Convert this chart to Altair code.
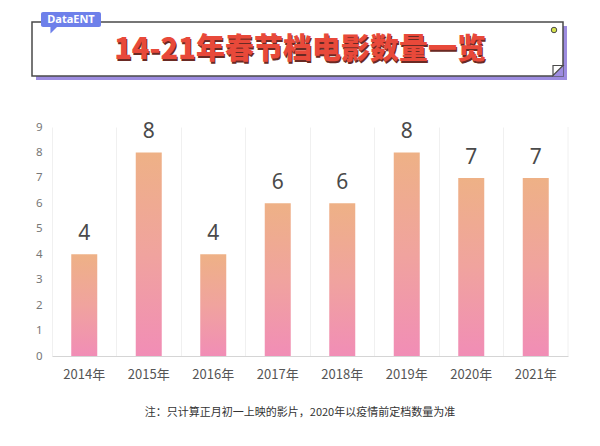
import altair as alt
import pandas as pd

years = ["2014年", "2015年", "2016年", "2017年", "2018年", "2019年", "2020年", "2021年"]
counts = [4, 8, 4, 6, 6, 8, 7, 7]
y_ticks = [0, 1, 2, 3, 4, 5, 6, 7, 8, 9]
title_text = "14-21年春节档电影数量一览"
tag_text = "DataENT"
note_text = "注：只计算正月初一上映的影片，2020年以疫情前定档数量为准"

FONT = "Noto Sans CJK SC"
df = pd.DataFrame({"year": years, "count": counts})
one = pd.DataFrame({"k": [0]})

grad = alt.LinearGradient(
    gradient="linear", x1=0, y1=0, x2=0, y2=1,
    stops=[alt.GradientStop(offset=0, color="#EEB186"),
           alt.GradientStop(offset=0.5, color="#F0A39E"),
           alt.GradientStop(offset=1, color="#F18DB6")],
)

x_enc = alt.X("year:N", sort=years, title=None,
              scale=alt.Scale(paddingInner=0, paddingOuter=0),
              axis=alt.Axis(labelAngle=0, labelFont=FONT, labelFontSize=13,
                            labelColor="#555555", labelPadding=12, ticks=False,
                            domainColor="#D5D5D5", domainWidth=1.2,
                            grid=True, gridColor="#F0F0F0", bandPosition=0))
y_enc = alt.Y("count:Q", title=None,
              scale=alt.Scale(domain=[0, 9], nice=False),
              axis=alt.Axis(values=y_ticks, grid=False, ticks=False, domain=False,
                            labelOverlap=False, labelFlush=False,
                            labelFont="Noto Sans", labelFontSize=11.5,
                            labelColor="#777777", labelPadding=10))

base = alt.Chart(df)
bars = base.mark_bar(width=26, color=grad).encode(x=x_enc, y=y_enc)
labels = base.mark_text(dy=-10, baseline="bottom", fontSize=21, font="Noto Sans",
                        color="#4A4A4A").encode(x=x_enc, y=y_enc, text="count:Q")

deco = alt.Chart(one)
right_grid = deco.mark_rule(color="#F0F0F0").encode(
    x=alt.value(516), y=alt.value(0), y2=alt.value(229))

shadow = deco.mark_rect(color="#9D8CE0").encode(
    x=alt.value(-16), x2=alt.value(515), y=alt.value(-101), y2=alt.value(-47))
box = deco.mark_rect(fill="white", stroke="#4A4A4A", strokeWidth=1.5).encode(
    x=alt.value(-20), x2=alt.value(511), y=alt.value(-105), y2=alt.value(-51))
fold_purple = deco.mark_point(shape="M 1 -1 L 1 1 L -1 1 Z", filled=True,
                              color="#9D8CE0", size=110, opacity=1).encode(
    x=alt.value(506), y=alt.value(-56))
fold_flap = deco.mark_point(shape="M -1 -1 L 1 -1 L -1 1 Z", filled=True,
                            fill="white", stroke="#4A4A4A", strokeWidth=1.2,
                            size=100, opacity=1).encode(
    x=alt.value(506), y=alt.value(-56.5))
dot = deco.mark_point(shape="circle", filled=True, fill="#D6E24C", stroke="#4A4A4A",
                      strokeWidth=1, size=30, opacity=1).encode(
    x=alt.value(502), y=alt.value(-97))
tag = deco.mark_rect(color="#6E80EA", cornerRadius=2).encode(
    x=alt.value(-11), x2=alt.value(49), y=alt.value(-115), y2=alt.value(-100))
tag_tail = deco.mark_point(shape="M -1 -1 L 1 -1 L -1 1 Z", filled=True,
                           color="#6E80EA", size=50, opacity=1).encode(
    x=alt.value(2), y=alt.value(-97))
tag_label = deco.mark_text(text=tag_text, color="white", fontSize=11, fontWeight="bold",
                           font="Noto Sans", align="center", baseline="middle").encode(
    x=alt.value(19), y=alt.value(-107.5))
title_shadow = deco.mark_text(text=title_text, color="#6A2A24", fontSize=29,
                              fontWeight=900, font=FONT, align="center",
                              baseline="middle").encode(
    x=alt.value(249), y=alt.value(-75.5))
title_main = deco.mark_text(text=title_text, color="#E8493A", fontSize=29,
                            fontWeight=900, font=FONT, align="center",
                            baseline="middle").encode(
    x=alt.value(248), y=alt.value(-77))
note = deco.mark_text(text=note_text, color="#333333", fontSize=11, font=FONT,
                      align="center", baseline="middle").encode(
    x=alt.value(248), y=alt.value(286))

chart = alt.layer(
    bars, labels, right_grid, shadow, box, fold_purple, fold_flap, dot, tag, tag_tail,
    tag_label, title_shadow, title_main, note
).properties(
    width=516, height=229,
    autosize=alt.AutoSizeParams(type="none"),
    padding={"left": 44, "top": 119, "right": 24, "bottom": 82},
).configure(background="white", view=alt.ViewConfig(stroke=None))

chart.save("out.html", embed_options={"renderer": "svg", "actions": False})
